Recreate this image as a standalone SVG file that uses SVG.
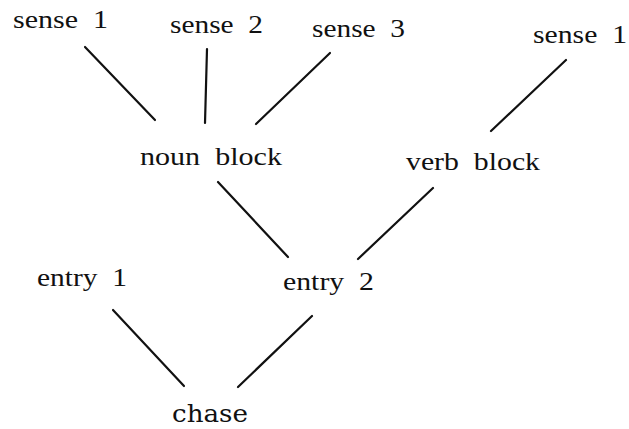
<svg xmlns="http://www.w3.org/2000/svg" width="629" height="429" viewBox="0 0 629 429">
  <style>
    .lbl { font-family: "Liberation Serif", "Times New Roman", serif; font-size: 25px; fill: #111; white-space: pre; }
    .root { font-family: "DejaVu Serif", "Liberation Serif", serif; font-size: 24px; fill: #111; }
    .edge { stroke: #111; stroke-width: 2.2; stroke-linecap: round; fill: none; }
  </style>
  <rect width="629" height="429" fill="#fff"/>

  <!-- connectors -->
  <g id="edges">
    <line class="edge" x1="85" y1="47" x2="155" y2="120"/>
    <line class="edge" x1="207" y1="49" x2="205" y2="123"/>
    <line class="edge" x1="330" y1="53" x2="256" y2="124"/>
    <line class="edge" x1="566" y1="60" x2="491" y2="131"/>
    <line class="edge" x1="218" y1="182" x2="288" y2="257"/>
    <line class="edge" x1="433" y1="188" x2="358" y2="259"/>
    <line class="edge" x1="113" y1="310" x2="184" y2="386"/>
    <line class="edge" x1="312" y1="316" x2="238" y2="387"/>
  </g>

  <!-- nodes -->
  <g id="noun-sense-1"><text class="lbl" x="13" y="28" textLength="95" lengthAdjust="spacingAndGlyphs">sense&#160; 1</text></g>
  <g id="noun-sense-2"><text class="lbl" x="170" y="33" textLength="93" lengthAdjust="spacingAndGlyphs">sense&#160; 2</text></g>
  <g id="noun-sense-3"><text class="lbl" x="312" y="37" textLength="93" lengthAdjust="spacingAndGlyphs">sense&#160; 3</text></g>
  <g id="verb-sense-1"><text class="lbl" x="533" y="43" textLength="94" lengthAdjust="spacingAndGlyphs">sense&#160; 1</text></g>
  <g id="noun-block"><text class="lbl" x="140" y="165" textLength="142" lengthAdjust="spacingAndGlyphs">noun&#160; block</text></g>
  <g id="verb-block"><text class="lbl" x="406" y="170" textLength="134" lengthAdjust="spacingAndGlyphs">verb&#160; block</text></g>
  <g id="entry-1"><text class="lbl" x="37" y="286" textLength="90" lengthAdjust="spacingAndGlyphs">entry&#160; 1</text></g>
  <g id="entry-2"><text class="lbl" x="283" y="290" textLength="91" lengthAdjust="spacingAndGlyphs">entry&#160; 2</text></g>
  <g id="chase"><text class="root" x="172" y="422" textLength="76" lengthAdjust="spacingAndGlyphs">chase</text></g>
</svg>
